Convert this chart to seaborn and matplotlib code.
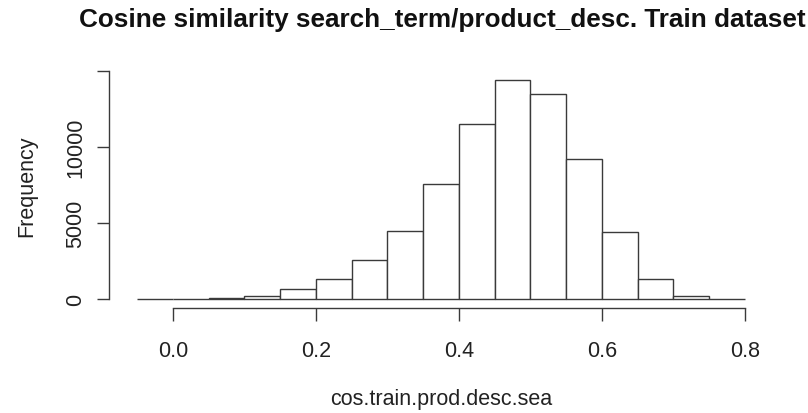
import matplotlib
matplotlib.use("Agg")
import matplotlib.pyplot as plt
import seaborn as sns
import numpy as np
import pandas as pd

# Bin edges (width 0.05) and counts
bin_edges = [-0.05, 0.0, 0.05, 0.10, 0.15, 0.20, 0.25, 0.30, 0.35, 0.40,
             0.45, 0.50, 0.55, 0.60, 0.65, 0.70, 0.75, 0.80]
counts = [0, 20, 90, 240, 680, 1360, 2560, 4460, 7580, 11490,
          14430, 13510, 9210, 4450, 1340, 200, 10]
x_ticks = [0.0, 0.2, 0.4, 0.6, 0.8]
x_tick_labels = ["0.0", "0.2", "0.4", "0.6", "0.8"]
y_ticks = [0, 5000, 10000, 15000]
y_tick_labels = ["0", "5000", "10000", ""]

title = "Cosine similarity search_term/product_desc. Train dataset"
xlabel = "cos.train.prod.desc.sea"
ylabel = "Frequency"

sns.set_style("white")
plt.rcParams['font.family'] = ['Liberation Sans', 'DejaVu Sans']

df = pd.DataFrame({
    "x": [(bin_edges[i] + bin_edges[i + 1]) / 2 for i in range(len(counts))],
    "w": counts,
})

fig = plt.figure(figsize=(8.08, 4.14), dpi=100)
ax = fig.add_axes([113 / 808, 1 - 309.4 / 414, (769 - 113) / 808, (309.4 - 62.9) / 414])

edge = "#3a3a3a"
sns.histplot(data=df, x="x", weights="w", bins=bin_edges, ax=ax,
             color="white", edgecolor=edge, linewidth=1.0, alpha=1.0)

ax.set_xlim(-0.084, 0.834)
ax.set_ylim(-600, 15600)

for s in ["top", "right"]:
    ax.spines[s].set_visible(False)
ax.spines["left"].set_bounds(0, 15000)
ax.spines["bottom"].set_bounds(0, 0.8)
ax.spines["left"].set_position(("outward", 3))
for s in ["left", "bottom"]:
    ax.spines[s].set_color(edge)
    ax.spines[s].set_linewidth(1.0)

ax.set_xticks(x_ticks)
ax.set_xticklabels(x_tick_labels)
ax.set_yticks(y_ticks)
ax.set_yticklabels(y_tick_labels, rotation=90, va="center")
ax.tick_params(axis="both", which="both", direction="out", length=9, width=1.0,
               color=edge, labelsize=15.5, labelcolor="#222222", left=True, bottom=True)
ax.tick_params(axis="x", pad=14)
ax.tick_params(axis="y", pad=7.5)

ax.set_xlabel(xlabel, fontsize=15.5, color="#222222", labelpad=19)
ax.set_ylabel(ylabel, fontsize=15.5, color="#222222", labelpad=20)
ax.grid(False)

fig.text(442 / 808, 1 - 20 / 414, title, ha="center", va="center",
         fontsize=18.8, fontweight="bold", color="#111111")

fig.savefig("out.png", dpi=100)
